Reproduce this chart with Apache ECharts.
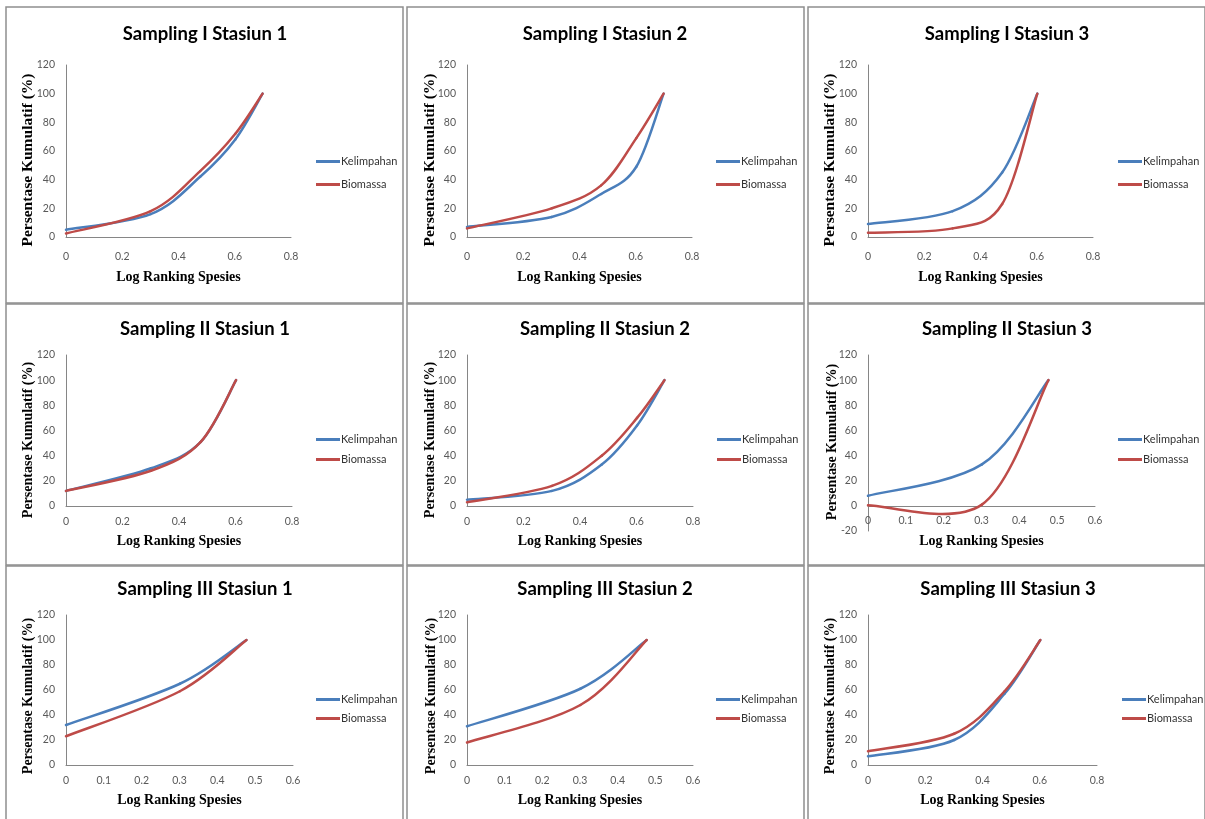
<!DOCTYPE html>
<html>
<head>
<meta charset="utf-8">
<script src="https://cdn.jsdelivr.net/npm/echarts@6/dist/echarts.min.js"></script>
<style>
html,body{margin:0;padding:0;background:#fff;}
#c{width:1205px;height:819px;}
</style>
</head>
<body>
<div id="c"></div>
<script>
// log10 of species rank
const LOG5 = [0, 0.301, 0.477, 0.602, 0.699];
const LOG4 = [0, 0.301, 0.477, 0.602];
const LOG3 = [0, 0.301, 0.477];

const titles = [
  'Sampling I Stasiun 1', 'Sampling I Stasiun 2', 'Sampling I Stasiun 3',
  'Sampling II Stasiun 1', 'Sampling II Stasiun 2', 'Sampling II Stasiun 3',
  'Sampling III Stasiun 1', 'Sampling III Stasiun 2', 'Sampling III Stasiun 3'
];
const seriesNames = ['Kelimpahan', 'Biomassa'];
const xAxisTitle = 'Log Ranking Spesies';
const yAxisTitle = 'Persentase Kumulatif (%)';

// cumulative % values
const kelS1St1 = [5, 16, 42, 68, 100];
const bioS1St1 = [2.5, 18, 46, 72, 100];
const kelS1St2 = [7, 14, 30, 49, 100];
const bioS1St2 = [6, 20, 36, 69, 100];
const kelS1St3 = [9, 18, 45, 100];
const bioS1St3 = [3, 6, 23, 100];
const kelS2St1 = [12, 30, 51, 100];
const bioS2St1 = [12, 28, 51, 100];
const kelS2St2 = [5, 12, 33, 64, 100];
const bioS2St2 = [3, 16, 40, 70, 100];
const kelS2St3 = [8, 33, 100];
const bioS2St3 = [0.5, 1, 100];
const kelS3St1 = [32, 65, 100];
const bioS3St1 = [23, 59, 100];
const kelS3St2 = [31, 61, 100];
const bioS3St2 = [18, 48, 100];
const kelS3St3 = [7, 20, 57, 100];
const bioS3St3 = [11, 25, 59, 100];

// axis ranges per panel
const xMax = [0.8, 0.8, 0.8, 0.8, 0.8, 0.6, 0.6, 0.6, 0.8];
const xStep = [0.2, 0.2, 0.2, 0.2, 0.2, 0.1, 0.1, 0.1, 0.2];
const yMin = [0, 0, 0, 0, 0, -20, 0, 0, 0];

const panelData = [
  [LOG5, kelS1St1, bioS1St1],
  [LOG5, kelS1St2, bioS1St2],
  [LOG4, kelS1St3, bioS1St3],
  [LOG4, kelS2St1, bioS2St1],
  [LOG5, kelS2St2, bioS2St2],
  [LOG3, kelS2St3, bioS2St3],
  [LOG3, kelS3St1, bioS3St1],
  [LOG3, kelS3St2, bioS3St2],
  [LOG4, kelS3St3, bioS3St3]
];

// ---- layout (pixels) ----
const layout = [
  {g:[66,65,225,172],  t:[205,33],  l:[316,156,12], xm:14, xg:33, yn:[28,160,15.5],  border:[6,7,397,296]},
  {g:[467,65,225,172], t:[605,33],  l:[716,156,12], xm:14, xg:33, yn:[430,160,15.5], border:[407,7,397,296]},
  {g:[868,65,225,172], t:[1007,33], l:[1118,156,12], xm:14, xg:33, yn:[830,160,15.5], border:[808,7,397,296]},
  {g:[66,355,226,151], t:[205,328], l:[316,434,9], xm:10, xg:28, yn:[28,440,14],  border:[6,304,397,261]},
  {g:[467,355,226,151],t:[605,328], l:[717,434,9], xm:10, xg:28, yn:[430,440,14], border:[407,304,397,261]},
  {g:[868,355,227,176],t:[1007,328],l:[1118,434,9], xm:-16, xg:3, yn:[832,442,14], border:[808,304,397,261]},
  {g:[66,615,227,150], t:[205,588], l:[316,694,8], xm:10, xg:28, yn:[28,696,14],  border:[6,566,397,260]},
  {g:[467,615,226,150],t:[605,588], l:[716,694,8], xm:10, xg:28, yn:[431,696,14], border:[407,566,397,260]},
  {g:[868,615,229,150],t:[1008,588],l:[1122,694,8], xm:10, xg:28, yn:[830,696,14], border:[808,566,397,260]}
];

const BLUE = '#4A7EBB';
const RED = '#BE4B48';
const AXIS = '#868686';
const LABEL = '#595959';

// Excel-style smoothed line (Catmull-Rom Bezier), drawn from data via the axes' coord()
function smoothLine(xs, vals, color, name, i) {
  const pts = xs.map((x, k) => [x, vals[k]]);
  return {
    type: 'custom', name: name, coordinateSystem: 'cartesian2d',
    xAxisIndex: i, yAxisIndex: i, data: pts, encode: {x: 0, y: 1},
    itemStyle: {color: color}, animation: false, clip: false,
    renderItem: function (params, api) {
      if (params.dataIndex !== 0) return null;
      const P = pts.map(p => api.coord(p));
      const children = [];
      for (let k = 0; k < P.length - 1; k++) {
        const p0 = P[k - 1] || P[k], p1 = P[k], p2 = P[k + 1], p3 = P[k + 2] || P[k + 1];
        children.push({
          type: 'bezierCurve',
          shape: {
            x1: p1[0], y1: p1[1], x2: p2[0], y2: p2[1],
            cpx1: p1[0] + (p2[0] - p0[0]) / 6, cpy1: p1[1] + (p2[1] - p0[1]) / 6,
            cpx2: p2[0] - (p3[0] - p1[0]) / 6, cpy2: p2[1] - (p3[1] - p1[1]) / 6
          },
          style: {stroke: color, lineWidth: 2.5, fill: 'none', lineCap: 'round', lineJoin: 'round'}
        });
      }
      return {type: 'group', children: children};
    }
  };
}

const grid = [], xAxis = [], yAxis = [], series = [], title = [], legend = [], graphic = [];

layout.forEach((L, i) => {
  grid.push({left: L.g[0], top: L.g[1], width: L.g[2], height: L.g[3], containLabel: false});
  title.push({
    text: titles[i], left: L.t[0], top: L.t[1] - 8, textAlign: 'center', padding: 0,
    textStyle: {fontFamily: 'Lato', fontWeight: 'bold', fontSize: 18.5, color: '#000'}
  });
  legend.push({
    data: seriesNames, orient: 'vertical', left: L.l[0], top: L.l[1], itemGap: L.l[2],
    icon: 'rect', itemWidth: 24, itemHeight: 3, padding: 0,
    textStyle: {fontFamily: 'Lato', fontSize: 11, color: '#333', padding: [0, 0, 0, -4]}
  });
  xAxis.push({
    type: 'value', gridIndex: i, min: 0, max: xMax[i], interval: xStep[i],
    name: xAxisTitle, nameLocation: 'middle', nameGap: L.xg, nameMoveOverlap: false,
    nameTextStyle: {fontFamily: 'Liberation Serif', fontWeight: 'bold', fontSize: 14, color: '#000'},
    axisLine: {show: true, onZero: true, lineStyle: {color: AXIS, width: 1}},
    axisTick: {show: false}, splitLine: {show: false},
    axisLabel: {fontFamily: 'Lato', fontSize: 10.5, color: LABEL, margin: L.xm}
  });
  yAxis.push({
    type: 'value', gridIndex: i, min: yMin[i], max: 120, interval: 20,
    axisLine: {show: true, onZero: false, lineStyle: {color: AXIS, width: 1}},
    axisTick: {show: false}, splitLine: {show: false},
    axisLabel: {fontFamily: 'Lato', fontSize: 10.5, color: LABEL, margin: 11}
  });
  const [xs, kel, bio] = panelData[i];
  series.push(smoothLine(xs, kel, BLUE, seriesNames[0], i));
  series.push(smoothLine(xs, bio, RED, seriesNames[1], i));
  graphic.push({
    type: 'rect', shape: {x: L.border[0], y: L.border[1], width: L.border[2], height: L.border[3]},
    style: {fill: 'none', stroke: '#8f8f8f', lineWidth: 1.5}, silent: true
  });
  graphic.push({
    type: 'text', x: L.yn[0], y: L.yn[1], rotation: Math.PI / 2, silent: true,
    style: {
      text: yAxisTitle, align: 'center', verticalAlign: 'middle',
      fontSize: L.yn[2], fontWeight: 'bold', fontFamily: 'Liberation Serif', fill: '#000'
    }
  });
});

const chart = echarts.init(document.getElementById('c'));
chart.setOption({
  animation: false,
  backgroundColor: '#fff',
  title, legend, grid, xAxis, yAxis, series, graphic
});
</script>
</body>
</html>
